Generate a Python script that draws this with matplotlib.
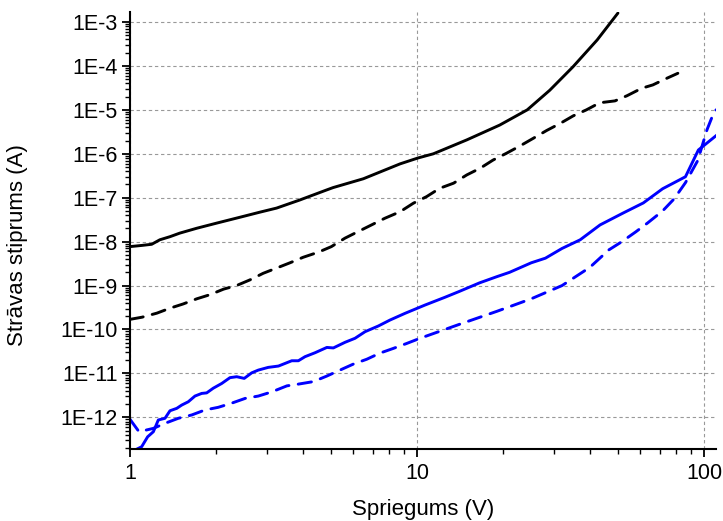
import numpy as np
import matplotlib
matplotlib.use("Agg")
import matplotlib.pyplot as plt
from matplotlib.ticker import LogLocator, NullFormatter, FuncFormatter

plt.rcParams['font.family'] = ['Liberation Sans', 'DejaVu Sans']

# melnā, nepārtrauktā līkne
u_melna = [1.0, 1.1, 1.19, 1.27, 1.38, 1.49, 1.71, 2.0, 2.42, 2.84, 3.24, 3.91,
           4.84, 5.1, 6.5, 8.73, 10.06, 11.4, 14.9, 19.4, 24.2, 29.0, 34.9, 42.4, 50.1]
i_melna = [7.7e-9, 8.2e-9, 8.7e-9, 1.1e-8, 1.3e-8, 1.56e-8, 2.02e-8, 2.63e-8, 3.6e-8,
           4.7e-8, 5.8e-8, 8.9e-8, 1.5e-7, 1.7e-7, 2.7e-7, 5.9e-7, 8.0e-7, 1.0e-6,
           2.07e-6, 4.5e-6, 1.0e-5, 2.8e-5, 9.5e-5, 3.9e-4, 1.6e-3]

# melnā, raustītā līkne
u_melna_r = [1.0, 1.1, 1.24, 1.38, 1.53, 1.71, 1.9, 2.12, 2.35, 2.62, 2.91, 3.24, 3.61,
             4.01, 4.53, 5.03, 5.61, 6.24, 6.94, 7.72, 8.73, 9.71, 10.8, 12.0, 13.4,
             14.9, 16.6, 18.4, 20.5, 22.8, 25.4, 28.3, 31.5, 35.0, 38.9, 43.3, 48.9,
             53.9, 60.6, 66.3, 73.0, 81.0]
i_melna_r = [1.7e-10, 1.9e-10, 2.35e-10, 3.06e-10, 3.8e-10, 5.0e-10, 6.2e-10, 8.3e-10,
             1.0e-9, 1.35e-9, 1.9e-9, 2.5e-9, 3.3e-9, 4.4e-9, 5.75e-9, 7.7e-9, 1.2e-8,
             1.7e-8, 2.4e-8, 3.4e-8, 4.8e-8, 7.5e-8, 1.06e-7, 1.64e-7, 2.14e-7, 3.3e-7,
             4.7e-7, 7.2e-7, 1.03e-6, 1.5e-6, 2.25e-6, 3.4e-6, 4.9e-6, 7.3e-6, 1.0e-5,
             1.45e-5, 1.6e-5, 2.1e-5, 3.1e-5, 3.7e-5, 5.0e-5, 6.8e-5]

# zilā, nepārtrauktā līkne
u_zila = [1.0, 1.041, 1.098, 1.152, 1.206, 1.255, 1.324, 1.378, 1.455, 1.514, 1.596,
          1.684, 1.777, 1.85, 1.95, 2.087, 2.23, 2.354, 2.5, 2.655, 2.8, 3.03, 3.29,
          3.66, 3.86, 4.07, 4.41, 4.85, 5.11, 5.61, 6.08, 6.59, 7.33, 8.05, 9.08,
          10.66, 12.5, 14.0, 16.5, 19.0, 21.0, 25.0, 28.0, 32.0, 37.0, 43.4, 52.3,
          61.4, 71.7, 86.1, 95.5, 111.0]
i_zila = [1.2e-13, 1.8e-13, 2.14e-13, 3.6e-13, 4.7e-13, 8.7e-13, 9.5e-13, 1.41e-12,
          1.6e-12, 1.9e-12, 2.26e-12, 3.05e-12, 3.5e-12, 3.6e-12, 4.6e-12, 5.9e-12,
          8.0e-12, 8.4e-12, 7.7e-12, 1.03e-11, 1.19e-11, 1.37e-11, 1.47e-11, 1.94e-11,
          1.94e-11, 2.4e-11, 2.95e-11, 3.9e-11, 3.8e-11, 5.1e-11, 6.3e-11, 8.9e-11,
          1.2e-10, 1.64e-10, 2.33e-10, 3.6e-10, 5.4e-10, 7.3e-10, 1.15e-9, 1.6e-9,
          2.0e-9, 3.3e-9, 4.2e-9, 7.0e-9, 1.1e-8, 2.4e-8, 4.5e-8, 7.6e-8, 1.6e-7,
          3.0e-7, 1.22e-6, 2.7e-6]

# zilā, raustītā līkne
u_zila_r = [1.0, 1.075, 1.206, 1.324, 1.473, 1.64, 1.825, 2.03, 2.26, 2.52, 2.8, 3.12,
            3.52, 3.86, 4.35, 4.85, 5.39, 6.0, 6.68, 7.43, 8.26, 9.2, 10.24, 14.0,
            19.0, 25.0, 32.0, 40.0, 46.6, 51.6, 57.8, 63.6, 71.7, 78.6, 86.1, 95.0,
            102.3, 106.6, 110.0]
i_zila_r = [9.0e-13, 4.7e-13, 5.6e-13, 7.3e-13, 9.5e-13, 1.13e-12, 1.47e-12, 1.69e-12,
            2.1e-12, 2.7e-12, 3.05e-12, 3.8e-12, 5.2e-12, 5.7e-12, 6.5e-12, 8.7e-12,
            1.19e-11, 1.63e-11, 2.1e-11, 2.9e-11, 3.7e-11, 4.8e-11, 6.3e-11, 1.3e-10,
            2.6e-10, 5.0e-10, 1.0e-9, 2.6e-9, 6.5e-9, 9.9e-9, 1.67e-8, 2.67e-8, 5.0e-8,
            9.4e-8, 2.2e-7, 7.0e-7, 3.5e-6, 6.9e-6, 1.0e-5]

fig = plt.figure(figsize=(7.23, 5.21), dpi=100)
ax = fig.add_axes([130 / 723, 1 - 449 / 521, 586 / 723, 437 / 521])

lw = 2.1
ax.plot(u_melna, i_melna, color='black', lw=lw, solid_capstyle='round')
ax.plot(u_melna_r, i_melna_r, color='black', lw=lw, dashes=(4.6, 3.2), dash_capstyle='round')
ax.plot(u_zila, i_zila, color='#0000ff', lw=lw, solid_capstyle='round')
ax.plot(u_zila_r, i_zila_r, color='#0000ff', lw=lw, dashes=(4.6, 3.2), dash_capstyle='round')

ax.set_xscale('log')
ax.set_yscale('log')
ax.set_xlim(1, 110)
ax.set_ylim(1.9e-13, 1.69e-3)

ax.xaxis.set_major_locator(LogLocator(base=10, numticks=10))
ax.xaxis.set_minor_locator(LogLocator(base=10, subs=np.arange(2, 10), numticks=50))
ax.xaxis.set_minor_formatter(NullFormatter())
ax.xaxis.set_major_formatter(FuncFormatter(lambda v, p: f"{v:g}"))

ax.yaxis.set_major_locator(LogLocator(base=10, numticks=30))
ax.yaxis.set_minor_locator(LogLocator(base=10, subs=np.arange(2, 10), numticks=200))
ax.yaxis.set_minor_formatter(NullFormatter())
ax.yaxis.set_major_formatter(FuncFormatter(lambda v, p: f"1E{int(round(np.log10(v)))}"))

ax.tick_params(which='major', direction='out', length=6, width=1.3, labelsize=15.5, pad=4)
ax.tick_params(which='minor', direction='out', length=3.5, width=1.0)
ax.tick_params(axis='y', which='major', pad=3)

for s in ['top', 'right']:
    ax.spines[s].set_visible(False)
for s in ['left', 'bottom']:
    ax.spines[s].set_linewidth(1.5)

ax.set_axisbelow(True)
ax.grid(which='major', linestyle=(0, (3, 2.5)), color='#999999', linewidth=0.8)

ax.set_xlabel('Spriegums (V)', fontsize=16, va='center')
ax.xaxis.set_label_coords(0.5, (449 - 510) / 437)
ax.set_ylabel('Strāvas stiprums (A)', fontsize=16, va='center')
ax.yaxis.set_label_coords((18 - 130) / 586, (449 - 245) / 437)

fig.savefig('out.png', dpi=100)
